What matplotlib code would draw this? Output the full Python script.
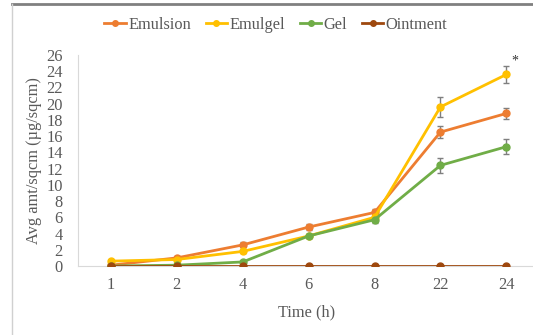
import matplotlib
matplotlib.use("Agg")
import matplotlib.pyplot as plt
from matplotlib.lines import Line2D

times = ["1", "2", "4", "6", "8", "22", "24"]
emulsion = [0.1, 1.0, 2.6, 4.8, 6.6, 16.5, 18.8]
emulsion_err = [0.1, 0.2, 0.3, 0.4, 0.4, 0.7, 0.7]
emulgel = [0.6, 0.8, 1.8, 3.7, 6.0, 19.6, 23.6]
emulgel_err = [0.1, 0.1, 0.2, 0.3, 0.4, 1.2, 1.0]
gel = [0.0, 0.1, 0.5, 3.7, 5.7, 12.4, 14.7]
gel_err = [0.0, 0.1, 0.1, 0.3, 0.4, 0.9, 0.9]
ointment = [0, 0, 0, 0, 0, 0, 0]

plt.rcParams['font.family'] = ['Liberation Serif', 'DejaVu Serif']
text_color = '#595959'
fsize = 11.8

fig = plt.figure(figsize=(5.33, 3.35), dpi=100)
ax = fig.add_axes([78 / 533, 69 / 335, (536 - 78) / 533, 211 / 335])

x = list(range(len(times)))
series = [
    ("Emulsion", emulsion, emulsion_err, '#ED7D31'),
    ("Emulgel", emulgel, emulgel_err, '#FFC000'),
    ("Gel", gel, gel_err, '#70AD47'),
    ("Ointment", ointment, None, '#9E480E'),
]
for name, vals, err, color in series:
    ax.errorbar(x, vals, yerr=err, color=color, marker='o', markersize=5,
                linewidth=2, ecolor='#7f7f7f', elinewidth=1, capsize=2.5,
                label=name, zorder=3)

# significance mark
ax.text(x[-1] + 0.13, emulgel[-1] + 1.6, "*", fontsize=10, color='#333333',
        ha='center', va='center')

ax.set_xlim(-0.5, 6.45)
ax.set_ylim(0, 26)
ax.set_yticks(range(0, 27, 2))
ax.set_xticks(x)
ax.set_xticklabels(times)
ax.tick_params(axis='both', length=0, labelsize=fsize, colors=text_color)
ax.tick_params(axis='y', pad=11)
ax.tick_params(axis='x', pad=8)
for side in ['top', 'right']:
    ax.spines[side].set_visible(False)
for side in ['left', 'bottom']:
    ax.spines[side].set_color('#d9d9d9')
ax.set_xlabel("Time (h)", fontsize=fsize, color=text_color, labelpad=8)
ax.set_ylabel("Avg amt/sqcm (µg/sqcm)", fontsize=fsize, color=text_color, labelpad=3)

labels = [s[0] for s in series]
handles = [Line2D([], [], color=c, marker='o', markersize=4, linewidth=2)
           for _, _, _, c in series]
leg = fig.legend(handles, labels, loc='center', bbox_to_anchor=(276 / 533, 1 - 25 / 335),
                 ncol=4, frameon=False, fontsize=fsize, handlelength=1.3,
                 handletextpad=0.15, columnspacing=0.9)
for t in leg.get_texts():
    t.set_color(text_color)

# image frame
fig.add_artist(Line2D([12 / 533, 1], [1 - 4 / 335, 1 - 4 / 335],
                      transform=fig.transFigure, color='#808080', linewidth=2))
fig.add_artist(Line2D([12 / 533, 12 / 533], [0, 1 - 4 / 335],
                      transform=fig.transFigure, color='#d0d0d0', linewidth=1))

fig.savefig("out.png", dpi=100)
